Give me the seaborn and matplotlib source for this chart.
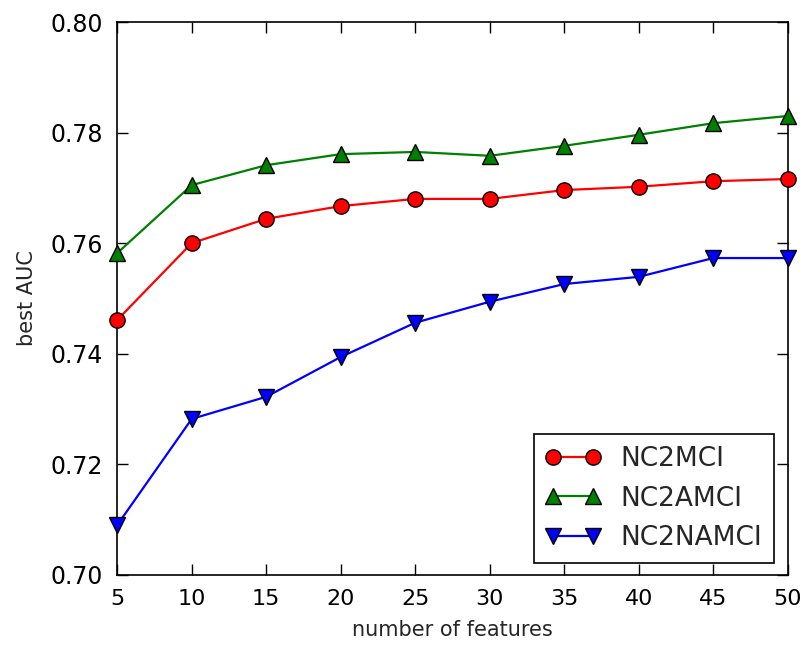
import matplotlib
matplotlib.use("Agg")
from matplotlib import pyplot as plt
import seaborn as sns
import pandas as pd

n_features = [5, 10, 15, 20, 25, 30, 35, 40, 45, 50]
nc2mci = [0.7461, 0.7600, 0.7644, 0.7667, 0.7680, 0.7680, 0.7696, 0.7702, 0.7712, 0.7716]
nc2amci = [0.7582, 0.7705, 0.7741, 0.7761, 0.7765, 0.7758, 0.7776, 0.7796, 0.7817, 0.7830]
nc2namci = [0.7090, 0.7282, 0.7322, 0.7394, 0.7456, 0.7494, 0.7526, 0.7539, 0.7573, 0.7573]

series_names = ['NC2MCI', 'NC2AMCI', 'NC2NAMCI']
series_values = [nc2mci, nc2amci, nc2namci]
colors = ['#ff0000', '#008000', '#0000ff']
markers = ['o', '^', 'v']


def make_plot():
    sns.set_style('ticks')
    plt.rcParams['font.family'] = ['DejaVu Sans']
    rows = []
    for name, vals in zip(series_names, series_values):
        for x, y in zip(n_features, vals):
            rows.append({'features': x, 'auc': y, 'method': name})
    data = pd.DataFrame(rows)

    fig = plt.figure(figsize=(8.03, 6.48), dpi=100)
    ax = fig.add_axes([0.146, 0.113, 0.835, 0.853])
    for name, color, marker in zip(series_names, colors, markers):
        sub = data[data['method'] == name]
        sns.lineplot(data=sub, x='features', y='auc', ax=ax, color=color,
                     marker=marker, markersize=11, markeredgecolor='black',
                     markeredgewidth=1.0, linewidth=1.6, label=name,
                     clip_on=False, zorder=3)

    ax.set_xlim(5, 50)
    ax.set_ylim(0.70, 0.80)
    ax.set_xticks(n_features)
    ax.set_yticks([0.70, 0.72, 0.74, 0.76, 0.78, 0.80])
    ax.set_yticklabels(['0.70', '0.72', '0.74', '0.76', '0.78', '0.80'])
    ax.tick_params(direction='in', length=8, width=1, labelsize=17,
                   top=True, right=True, pad=10, colors='black')
    ax.tick_params(axis='x', labelsize=16)
    for sp in ax.spines.values():
        sp.set_linewidth(1.2)
        sp.set_color('black')
    ax.set_xlabel('number of features', fontsize=15, labelpad=8)
    ax.set_ylabel('best AUC', fontsize=15, labelpad=10)

    leg = ax.legend(loc='lower right', fontsize=19, numpoints=2, fancybox=False,
                    framealpha=1, edgecolor='black', borderpad=0.45,
                    handlelength=2.1, labelspacing=0.5, handletextpad=0.75,
                    borderaxespad=0, bbox_to_anchor=(0.98, 0.022))
    leg.get_frame().set_linewidth(1.2)


def save_plot_as(filename):
    make_plot()
    plt.savefig(filename, dpi=100)
    plt.close()


if __name__ == '__main__':
    save_plot_as('out.png')
